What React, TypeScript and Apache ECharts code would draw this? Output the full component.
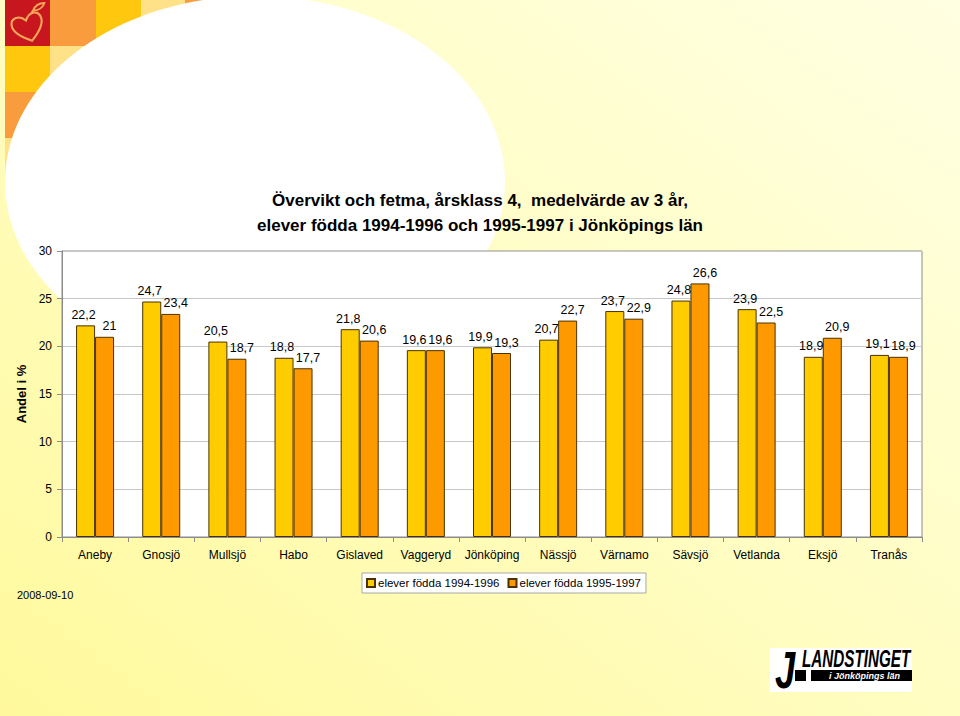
import React, { useEffect, useRef } from "react";
import * as echarts from "echarts";

const categories = ["Aneby", "Gnosjö", "Mullsjö", "Habo", "Gislaved", "Vaggeryd", "Jönköping", "Nässjö", "Värnamo", "Sävsjö", "Vetlanda", "Eksjö", "Tranås"];
const series1994 = [22.2, 24.7, 20.5, 18.8, 21.8, 19.6, 19.9, 20.7, 23.7, 24.8, 23.9, 18.9, 19.1];
const series1995 = [21, 23.4, 18.7, 17.7, 20.6, 19.6, 19.3, 22.7, 22.9, 26.6, 22.5, 20.9, 18.9];
const seriesNames = ["elever födda 1994-1996", "elever födda 1995-1997"];
const titleText = "Övervikt och fetma, årsklass 4,  medelvärde av 3 år,\nelever födda 1994-1996 och 1995-1997 i Jönköpings län";
const yAxisName = "Andel i %";
const dateText = "2008-09-10";

const FONT = "Liberation Sans, Arial, sans-serif";

const heartPath = "M50 92 C22 72 4 52 8 30 C12 10 36 8 50 30 C64 8 88 10 92 30 C96 52 78 72 50 92 Z";
const leafPath = "M0 20 C6 6 18 0 30 0 C26 12 14 20 0 20 Z M0 20 L-4 26";

let registered = false;
function registerShapes() {
  if (registered) return;
  echarts.graphic.registerShape("heart", echarts.graphic.extendPath(heartPath, {}) as any);
  echarts.graphic.registerShape("leaf", echarts.graphic.extendPath(leafPath, {}) as any);
  registered = true;
}

export default function App() {
  const ref = useRef<HTMLDivElement>(null);
  useEffect(() => {
    if (!ref.current) return;
    registerShapes();
    const chart = echarts.init(ref.current, undefined, { renderer: "svg" });
    const fmt = (p: any) => String(p.value).replace(".", ",");
    const barBorder = "#4a3200";
    const option: any = {
      animation: false,
      backgroundColor: new echarts.graphic.LinearGradient(0, 1, 1, 0, [
        { offset: 0, color: "#FFF99C" },
        { offset: 0.5, color: "#FFFDC2" },
        { offset: 1, color: "#FFFFE2" },
      ]),
      title: {
        text: titleText,
        left: "center",
        top: 183,
        textStyle: { fontFamily: FONT, fontWeight: "bold", fontSize: 17, lineHeight: 25, color: "#000" },
      },
      legend: {
        data: seriesNames,
        left: 362,
        top: 573,
        orient: "horizontal",
        backgroundColor: "#ffffff",
        borderColor: "#a8a8a8",
        borderWidth: 1,
        padding: [4, 5, 4, 4],
        itemWidth: 8,
        itemHeight: 8,
        itemGap: 8,
        icon: "rect",
        textStyle: { fontFamily: FONT, fontSize: 11.5, color: "#000", padding: [0, 0, 0, -2] },
      },
      grid: {
        left: 62,
        right: 38,
        top: 251,
        bottom: 179,
        show: true,
        backgroundColor: "#ffffff",
        borderColor: "#8c8c8c",
        borderWidth: 1,
      },
      xAxis: {
        type: "category",
        data: categories,
        axisLine: { lineStyle: { color: "#8c8c8c" } },
        axisTick: { show: true, interval: 0, length: 5, lineStyle: { color: "#8c8c8c" } },
        axisLabel: { interval: 0, fontFamily: FONT, fontSize: 12, color: "#000", margin: 12 },
      },
      yAxis: {
        type: "value",
        min: 0,
        max: 30,
        interval: 5,
        name: yAxisName,
        nameLocation: "middle",
        nameGap: 28,
        nameTextStyle: { fontFamily: FONT, fontWeight: "bold", fontSize: 13, color: "#000" },
        axisLine: { show: true, lineStyle: { color: "#8c8c8c" } },
        axisTick: { show: true, length: 5, lineStyle: { color: "#8c8c8c" } },
        axisLabel: { fontFamily: FONT, fontSize: 12, color: "#000", margin: 10 },
        splitLine: { lineStyle: { color: "#c8c8c8" } },
      },
      series: [
        {
          name: seriesNames[0],
          type: "bar",
          data: series1994,
          barWidth: 19,
          barGap: "0%",
          itemStyle: { color: "#FFCC00", borderColor: barBorder, borderWidth: 1 },
          label: { show: true, position: "top", distance: 4, offset: [-2, 0], formatter: fmt, fontFamily: FONT, fontSize: 12.5, color: "#000" },
        },
        {
          name: seriesNames[1],
          type: "bar",
          data: series1995,
          barWidth: 19,
          barGap: "0%",
          itemStyle: { color: "#FF9900", borderColor: barBorder, borderWidth: 1 },
          label: { show: true, position: "top", distance: 4, offset: [5, 0], formatter: fmt, fontFamily: FONT, fontSize: 12.5, color: "#000" },
        },
      ],
      graphic: [
        // decorative tiles top-left
        { type: "rect", z: -20, shape: { x: 5, y: 0, width: 45, height: 46 }, style: { fill: "#C8161E" } },
        { type: "rect", z: -20, shape: { x: 50, y: 0, width: 46, height: 46 }, style: { fill: "#F99C3E" } },
        { type: "rect", z: -20, shape: { x: 96, y: 0, width: 45, height: 46 }, style: { fill: "#FFC80F" } },
        { type: "rect", z: -20, shape: { x: 141, y: 0, width: 44, height: 46 }, style: { fill: "#FFE288" } },
        { type: "rect", z: -20, shape: { x: 185, y: 0, width: 44, height: 46 }, style: { fill: "#F99C3E" } },
        { type: "rect", z: -20, shape: { x: 5, y: 46, width: 45, height: 46 }, style: { fill: "#FFC80F" } },
        { type: "rect", z: -20, shape: { x: 50, y: 46, width: 46, height: 46 }, style: { fill: "#FFE288" } },
        { type: "rect", z: -20, shape: { x: 5, y: 92, width: 45, height: 46 }, style: { fill: "#F99C3E" } },
        { type: "rect", z: -20, shape: { x: 5, y: 138, width: 45, height: 46 }, style: { fill: "#FFE288" } },
        {
          type: "heart", z: -5, x: -22, y: -23, scaleX: 0.36, scaleY: 0.34, rotation: 0.3,
          originX: 50, originY: 50,
          style: { fill: "none", stroke: "#F8A55A", lineWidth: 6 },
        },
        {
          type: "leaf", z: -5, x: 33, y: 3, scaleX: 0.38, scaleY: 0.38,
          style: { fill: "none", stroke: "#F8A55A", lineWidth: 5 },
        },
        // big white ellipse
        { type: "ellipse", z: -10, shape: { cx: 255, cy: 182, rx: 250, ry: 186 }, style: { fill: "#ffffff" } },
        // date
        { type: "text", x: 17, y: 589, style: { text: dateText, fontFamily: FONT, fontSize: 11, fill: "#000" } },
        // Landstinget logo
        { type: "rect", z: 5, shape: { x: 770, y: 648, width: 142, height: 44 }, style: { fill: "#ffffff" } },
        { type: "rect", z: 6, shape: { x: 795, y: 670, width: 117, height: 11 }, style: { fill: "#000000" } },
        { type: "text", z: 7, x: 802, y: 647, scaleX: 0.635, style: { text: "LANDSTINGET", fontFamily: FONT, fontWeight: "bold", fontStyle: "italic", fontSize: 24, fill: "#000" } },
        { type: "text", z: 7, x: 829, y: 671, style: { text: "i Jönköpings län", fontFamily: FONT, fontWeight: "bold", fontStyle: "italic", fontSize: 9, fill: "#fff" } },
        { type: "text", z: 7, x: 775, y: 644, scaleX: 0.7, style: { text: "J", fontFamily: FONT, fontWeight: "bold", fontStyle: "italic", fontSize: 52, fill: "#000" } },
        { type: "rect", z: 7, shape: { x: 806, y: 670, width: 5, height: 11 }, style: { fill: "#ffffff" } },
      ],
    };
    chart.setOption(option);
    return () => chart.dispose();
  }, []);
  return (
    <div
      ref={ref}
      style={{ position: "fixed", left: 0, top: 0, width: 960, height: 716 }}
    />
  );
}
